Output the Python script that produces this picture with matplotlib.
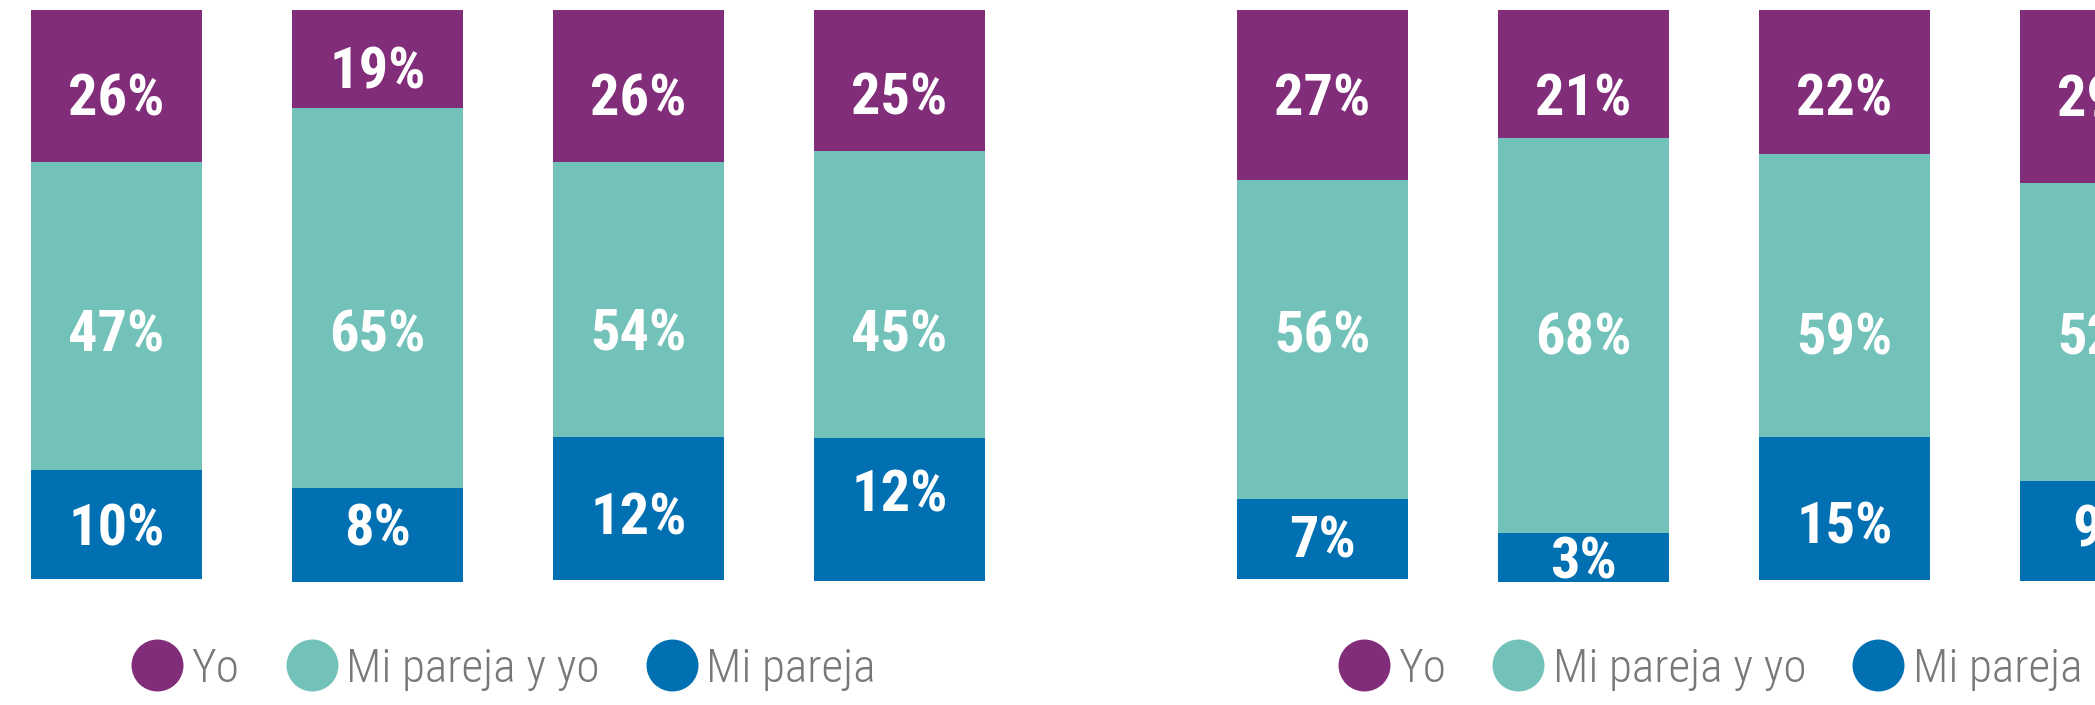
import matplotlib
matplotlib.use("Agg")
import matplotlib.pyplot as plt
from matplotlib import font_manager
from matplotlib.lines import Line2D

# ---------------- data ----------------
series = ["Yo", "Mi pareja y yo", "Mi pareja"]

# printed percentages (labels)
left_yo = [26, 19, 26, 25]
left_pareja_y_yo = [47, 65, 54, 45]
left_pareja = [10, 8, 12, 12]

right_yo = [27, 21, 22, 29]
right_pareja_y_yo = [56, 68, 59, 52]
right_pareja = [7, 3, 15, 9]

# segment heights as drawn in the picture (share of bar)
left_yo_h = [26.7, 17.2, 26.6, 24.8]
left_pareja_y_yo_h = [54.1, 66.7, 48.4, 50.3]
left_pareja_h = [19.0, 16.4, 25.0, 25.1]

right_yo_h = [29.9, 22.4, 25.2, 30.4]
right_pareja_y_yo_h = [55.9, 69.3, 49.8, 52.3]
right_pareja_h = [14.0, 8.6, 25.0, 17.5]

# ---------------- style ----------------
colors = ["#812d7a", "#72c2b9", "#0070b2"]
legend_grey = "#77787b"

available = {f.name for f in font_manager.fontManager.ttflist}
def pick(cands):
    for c in cands:
        if c in available:
            return c
    return "DejaVu Sans"
narrow = pick(["Liberation Sans Narrow", "Roboto Condensed", "Open Sans Condensed", "DejaVu Sans"])

W, H = 2095, 705
fig = plt.figure(figsize=(W / 100, H / 100), dpi=100)
fig.patch.set_facecolor("white")

px_per_unit = 5.7
top_px = 9.9
ylim = ((H - top_px) / px_per_unit, -top_px / px_per_unit)
spacing = 261.0
half = W / 2

# label vertical positions (layout, in bar units, visual centre of digits)
lab_y_left = [[14.8, 10.1, 14.8, 14.7], [56.3, 56.3, 56.0, 56.2], [90.3, 90.3, 88.3, 84.4]]
lab_y_right = [[14.8, 14.8, 14.8, 15.1], [56.5, 56.7, 56.7, 56.7], [92.3, 96.0, 90.0, 90.4]]
cap_half = 21.0 / px_per_unit

panels = [
    dict(rect=[0, 0, 0.5, 1], first_center=116.3, vals=[left_yo, left_pareja_y_yo, left_pareja],
         hts=[left_yo_h, left_pareja_y_yo_h, left_pareja_h], laby=lab_y_left, leg_x=132.0),
    dict(rect=[0.5, 0, 0.5, 1], first_center=1322.5 - half, vals=[right_yo, right_pareja_y_yo, right_pareja],
         hts=[right_yo_h, right_pareja_y_yo_h, right_pareja_h], laby=lab_y_right, leg_x=1338.6 - half),
]

for p in panels:
    ax = fig.add_axes(p["rect"])
    ax.set_axis_off()
    x0 = -p["first_center"] / spacing
    ax.set_xlim(x0, x0 + half / spacing)
    ax.set_ylim(*ylim)
    xs = list(range(4))
    bottoms = [0.0] * 4
    for s in range(3):
        ax.bar(xs, p["hts"][s], bottom=bottoms, width=171 / spacing, color=colors[s],
               linewidth=0, align="center")
        for i in xs:
            ax.text(i, p["laby"][s][i] + cap_half, f"{p['vals'][s][i]}%", ha="center", va="baseline",
                    color="white", fontsize=42, fontweight="bold", family=[narrow, "DejaVu Sans"])
        bottoms = [b + h for b, h in zip(bottoms, p["hts"][s])]

    handles = [Line2D([], [], marker="o", ls="", markersize=37.4, markerfacecolor=c,
                      markeredgewidth=0, color=c) for c in colors]
    leg = ax.legend(handles, series, loc="center left", ncol=3, frameon=False,
                    bbox_to_anchor=(p["leg_x"] / half, 36 / H),
                    borderpad=0, borderaxespad=0, handlelength=1.06, handletextpad=0.2,
                    columnspacing=1.0,
                    prop={"family": [narrow, "DejaVu Sans"], "size": 34, "weight": "light"})
    for t in leg.get_texts():
        t.set_color(legend_grey)

fig.savefig("out.png", dpi=100, facecolor="white")
